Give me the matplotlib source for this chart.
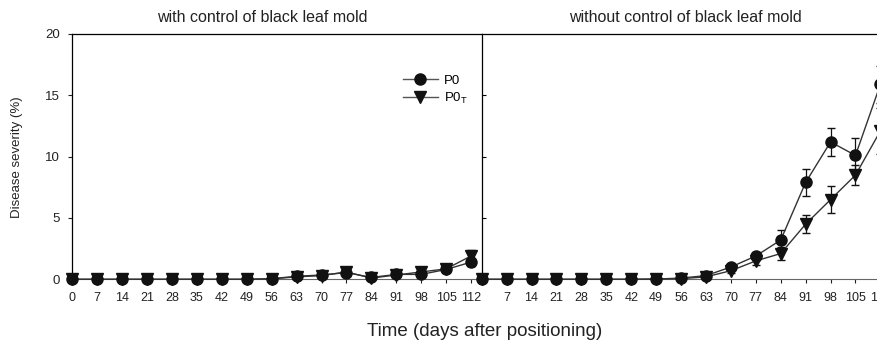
import matplotlib
matplotlib.use("Agg")
from matplotlib import pyplot as plt
from matplotlib.lines import Line2D

plt.rcParams['font.family'] = ['Liberation Sans', 'DejaVu Sans']

# days after positioning
days = [0, 7, 14, 21, 28, 35, 42, 49, 56, 63, 70, 77, 84, 91, 98, 105, 112]
day_labels = [str(d) for d in days]

# with control of black leaf mold
ctrl_p0 = [0, 0, 0, 0, 0, 0, 0, 0, 0.05, 0.25, 0.35, 0.55, 0.15, 0.4, 0.4, 0.8, 1.4]
ctrl_p0_err = [0, 0, 0, 0, 0, 0, 0, 0, 0.02, 0.05, 0.08, 0.1, 0.05, 0.1, 0.1, 0.15, 0.3]
ctrl_p0t = [0, 0, 0, 0, 0, 0, 0, 0, 0.03, 0.2, 0.3, 0.6, 0.1, 0.35, 0.6, 0.85, 1.9]
ctrl_p0t_err = [0, 0, 0, 0, 0, 0, 0, 0, 0.02, 0.05, 0.08, 0.1, 0.05, 0.1, 0.1, 0.15, 0.5]

# without control of black leaf mold
noctrl_p0 = [0, 0, 0, 0, 0, 0, 0, 0.02, 0.1, 0.3, 1.0, 1.9, 3.2, 7.9, 11.2, 10.1, 15.9]
noctrl_p0_err = [0, 0, 0, 0, 0, 0, 0, 0.02, 0.05, 0.1, 0.2, 0.3, 0.8, 1.1, 1.15, 1.4, 1.5]
noctrl_p0t = [0, 0, 0, 0, 0, 0, 0, 0.02, 0.05, 0.2, 0.7, 1.5, 2.1, 4.5, 6.5, 8.5, 12.1]
noctrl_p0t_err = [0, 0, 0, 0, 0, 0, 0, 0.02, 0.03, 0.1, 0.2, 0.3, 0.5, 0.75, 1.1, 0.85, 1.9]

W, H = 877, 342
fig = plt.figure(figsize=(W / 100, H / 100), dpi=100)

# pixel geometry of the two panels
x0 = 72.3
pw = 409.4
y_top, y_bot = 34, 279.3
bottom = 1 - y_bot / H
height = (y_bot - y_top) / H
ax1 = fig.add_axes([x0 / W, bottom, pw / W, height])
ax2 = fig.add_axes([(x0 + pw) / W, bottom, pw / W, height])

line_col = '#333333'
mk_col = '#111111'
txt_col = '#222222'


def draw(ax, p0, p0e, p0t, p0te):
    ax.errorbar(days, p0t, yerr=p0te, color=line_col, lw=1, ecolor=mk_col, elinewidth=0.9,
                capsize=3, marker='v', ms=8, mfc=mk_col, mec=mk_col, clip_on=False, zorder=3)
    ax.errorbar(days, p0, yerr=p0e, color=line_col, lw=1, ecolor=mk_col, elinewidth=0.9,
                capsize=3, marker='o', ms=8, mfc=mk_col, mec=mk_col, clip_on=False, zorder=4)
    ax.set_xlim(0, 115)
    ax.set_ylim(0, 20)
    ax.set_xticks(days)
    ax.tick_params(axis='x', direction='out', length=3, width=0.8, pad=6,
                   labelsize=9, colors=txt_col)
    ax.spines['bottom'].set_color('#666666')
    ax.spines['top'].set_linewidth(0.9)
    ax.spines['left'].set_linewidth(0.9)


draw(ax1, ctrl_p0, ctrl_p0_err, ctrl_p0t, ctrl_p0t_err)
draw(ax2, noctrl_p0, noctrl_p0_err, noctrl_p0t, noctrl_p0t_err)

ax1.set_xticklabels(day_labels)
ax2.set_xticklabels([''] + day_labels[1:])
ax1.spines['right'].set_visible(False)
ax1.set_yticks([0, 5, 10, 15, 20])
ax1.tick_params(axis='y', direction='out', length=3, width=0.8, pad=6,
                labelsize=9.5, colors=txt_col)
ax2.set_yticks([5, 10, 15])
ax2.tick_params(axis='y', direction='in', length=3, width=0.8, labelleft=False)

handles = [Line2D([], [], color='#555555', lw=1, marker='o', ms=8, mfc=mk_col, mec=mk_col),
           Line2D([], [], color='#555555', lw=1, marker='v', ms=8, mfc=mk_col, mec=mk_col)]
ax1.legend(handles, ['P0', 'P0$_\\mathregular{T}$'], loc='upper left',
           bbox_to_anchor=(398 / W, 1 - 69 / H), bbox_transform=fig.transFigure,
           frameon=False, fontsize=9.5, handlelength=2.6, handletextpad=0.5,
           labelspacing=0.3, borderaxespad=0)

fig.text(262 / W, 1 - 18 / H, 'with control of black leaf mold', ha='center', va='center',
         fontsize=11.5, color=txt_col)
fig.text(685 / W, 1 - 18 / H, 'without control of black leaf mold', ha='center', va='center',
         fontsize=11.5, color=txt_col)
fig.text(485 / W, 1 - 331 / H, 'Time (days after positioning)', ha='center', va='center',
         fontsize=13.5, color=txt_col)
fig.text(17 / W, 1 - 157 / H, 'Disease severity (%)', ha='center', va='center',
         rotation=90, fontsize=9.5, color=txt_col)

fig.savefig('out.png', dpi=100)
